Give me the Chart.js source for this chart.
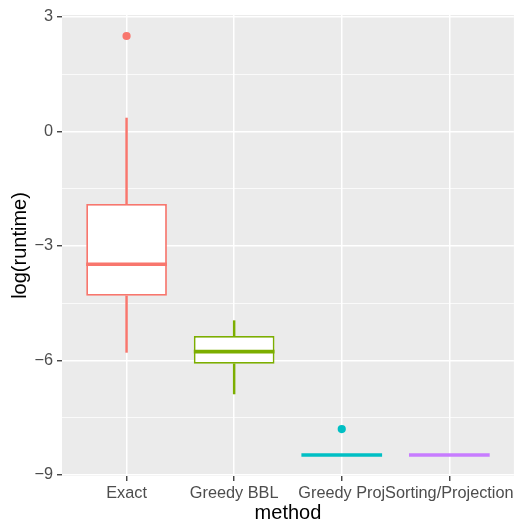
<!DOCTYPE html>
<html>
<head>
<meta charset="utf-8">
<script src="https://cdn.jsdelivr.net/npm/chart.js@4/dist/chart.umd.min.js"></script>
<style>
  html, body { margin: 0; padding: 0; background: #ffffff; }
  #wrap { width: 518px; height: 522px; }
</style>
</head>
<body>
<div id="wrap"><canvas id="c" width="518" height="522"></canvas></div>
<script>
// ---- data ----
const categories   = ['Exact', 'Greedy BBL', 'Greedy Proj', 'Sorting/Projection'];
const whiskerLow   = [-5.79, -6.88, -8.48, -8.48];
const q1           = [-4.31, -6.09, -8.48, -8.48];
const median       = [-3.48, -5.77, -8.48, -8.48];
const q3           = [-1.90, -5.36, -8.48, -8.48];
const whiskerHigh  = [ 0.35, -4.96, -8.48, -8.48];
const outlierCategory = [0, 2];
const outlierValue    = [2.50, -7.80];
const yMajorTicks  = [-9, -6, -3, 0, 3];
const yMinorTicks  = [-7.5, -4.5, -1.5, 1.5];
const yLimits      = [-9.03, 3.05];
const colors       = ['#F8766D', '#7CAE00', '#00BFC4', '#C77CFF'];

const boxWidth = 0.75; // in category units
const xPos = categories.map((_, i) => i + 1);
const fmt = v => (v < 0 ? '\u2212' + Math.abs(v) : String(v));

const panelBg = {
  id: 'panelBg',
  beforeDraw(chart) {
    const { ctx, chartArea: a } = chart;
    ctx.save();
    ctx.fillStyle = '#EBEBEB';
    ctx.fillRect(a.left, a.top, a.right - a.left, a.bottom - a.top);
    ctx.restore();
  }
};

const medianRadius = (ctx) => {
  const xs = ctx.chart.scales && ctx.chart.scales.x;
  if (!xs) return 40;
  return Math.abs(xs.getPixelForValue(1 + boxWidth / 2) - xs.getPixelForValue(1));
};

const chart = new Chart(document.getElementById('c'), {
  type: 'bar',
  data: {
    datasets: [
      {
        type: 'scatter',
        label: 'outliers',
        data: outlierValue.map((v, k) => ({ x: outlierCategory[k] + 1, y: v })),
        pointRadius: 4.1,
        pointBackgroundColor: outlierCategory.map(c => colors[c]),
        pointBorderWidth: 0,
        pointBorderColor: 'rgba(0,0,0,0)'
      },
      {
        type: 'scatter',
        label: 'median',
        data: median.map((v, i) => ({ x: xPos[i], y: v })),
        pointStyle: 'line',
        pointRadius: medianRadius,
        pointBorderWidth: 3.6,
        pointBorderColor: colors
      },
      {
        label: 'box',
        data: q1.map((v, i) => ({ x: xPos[i], y: [v, q3[i]] })),
        backgroundColor: '#FFFFFF',
        borderColor: colors,
        borderWidth: 1.8,
        borderSkipped: false,
        grouped: false,
        categoryPercentage: 1,
        barPercentage: boxWidth
      },
      {
        label: 'upper whisker',
        data: q3.map((v, i) => ({ x: xPos[i], y: [v, whiskerHigh[i]] })),
        backgroundColor: colors,
        borderWidth: 0,
        grouped: false,
        barThickness: 1.8
      },
      {
        label: 'lower whisker',
        data: q1.map((v, i) => ({ x: xPos[i], y: [whiskerLow[i], v] })),
        backgroundColor: colors,
        borderWidth: 0,
        grouped: false,
        barThickness: 1.8
      }
    ]
  },
  options: {
    responsive: false,
    animation: false,
    events: [],
    layout: { padding: { top: 15, right: 1, left: 0, bottom: 0 } },
    plugins: { legend: { display: false }, tooltip: { enabled: false } },
    scales: {
      x: {
        type: 'linear',
        min: 0.4,
        max: 4.6,
        offset: false,
        afterBuildTicks: s => { s.ticks = xPos.map(v => ({ value: v })); },
        afterFit: s => { s.height = 46; },
        ticks: {
          autoSkip: false,
          maxRotation: 0,
          padding: 3,
          color: '#4D4D4D',
          font: { family: 'Liberation Sans, Arial, sans-serif', size: 16.3 },
          callback: v => categories[v - 1] || ''
        },
        grid: {
          offset: false,
          color: '#FFFFFF',
          lineWidth: 1.5,
          drawTicks: true,
          tickLength: 5,
          tickColor: '#333333',
          tickWidth: 1.3
        },
        border: { display: false },
        title: {
          display: true,
          text: 'method',
          color: '#000000',
          font: { family: 'Liberation Sans, Arial, sans-serif', size: 20 },
          padding: { top: 0, bottom: -3 }
        }
      },
      y: {
        type: 'linear',
        min: yLimits[0],
        max: yLimits[1],
        afterBuildTicks: s => {
          s.ticks = yMajorTicks.concat(yMinorTicks).sort((a, b) => a - b).map(v => ({ value: v }));
        },
        afterFit: s => { s.width = 62; },
        ticks: {
          autoSkip: false,
          padding: 4,
          color: '#4D4D4D',
          font: { family: 'Liberation Sans, Arial, sans-serif', size: 16.3 },
          callback: v => (yMajorTicks.includes(v) ? fmt(v) : '')
        },
        grid: {
          offset: false,
          color: '#FFFFFF',
          lineWidth: c => (c.tick && yMajorTicks.includes(c.tick.value) ? 1.5 : 0.75),
          drawTicks: true,
          tickLength: 5,
          tickColor: c => (c.tick && yMajorTicks.includes(c.tick.value) ? '#333333' : 'rgba(0,0,0,0)'),
          tickWidth: 1.3
        },
        border: { display: false },
        title: {
          display: true,
          text: 'log(runtime)',
          color: '#000000',
          font: { family: 'Liberation Sans, Arial, sans-serif', size: 20 },
          padding: { top: 8, bottom: 0 }
        }
      }
    }
  },
  plugins: [panelBg]
});
</script>
</body>
</html>
